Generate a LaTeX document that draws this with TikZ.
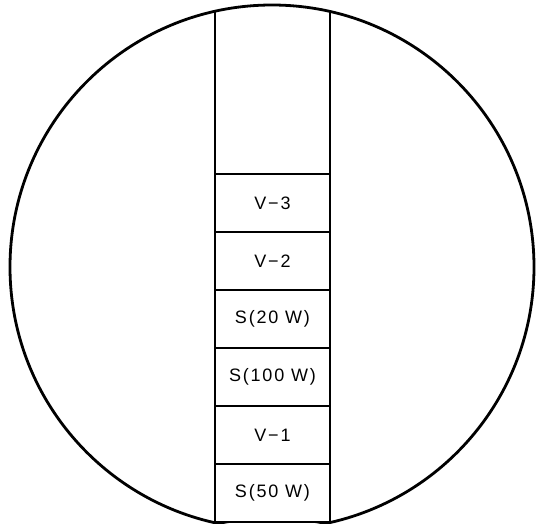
\documentclass[tikz,border=0pt]{standalone}
\usepackage{fontspec}
\setmainfont{Liberation Sans}[LetterSpace=10]
\usetikzlibrary{positioning}

\begin{document}
\begin{tikzpicture}[x=1pt, y=-1pt, line width=2.8pt, node distance=0pt,
  every node/.style={rectangle, draw, minimum width=115pt, minimum height=58pt, inner sep=0pt, outer sep=0pt, font=\fontsize{18}{20}\selectfont}]
\useasboundingbox (0,0) rectangle (536,523);
\node (s50) at (272.5,493) {S(50 W)};
\node[above=of s50] (v1) {V−1};
\node[above=of v1] (s100) {S(100 W)};
\node[above=of s100] (s20) {S(20 W)};
\node[above=of s20] (v2) {V−2};
\node[above=of v2] (v3) {V−3};
\coordinate (c) at (272,267);
\begin{scope}
\clip (c) circle[radius=262pt];
\draw (v3.north west) -- ++(0,-200);
\draw (v3.north east) -- ++(0,-200);
\end{scope}
\draw (c) circle[radius=262pt];
\end{tikzpicture}
\end{document}
